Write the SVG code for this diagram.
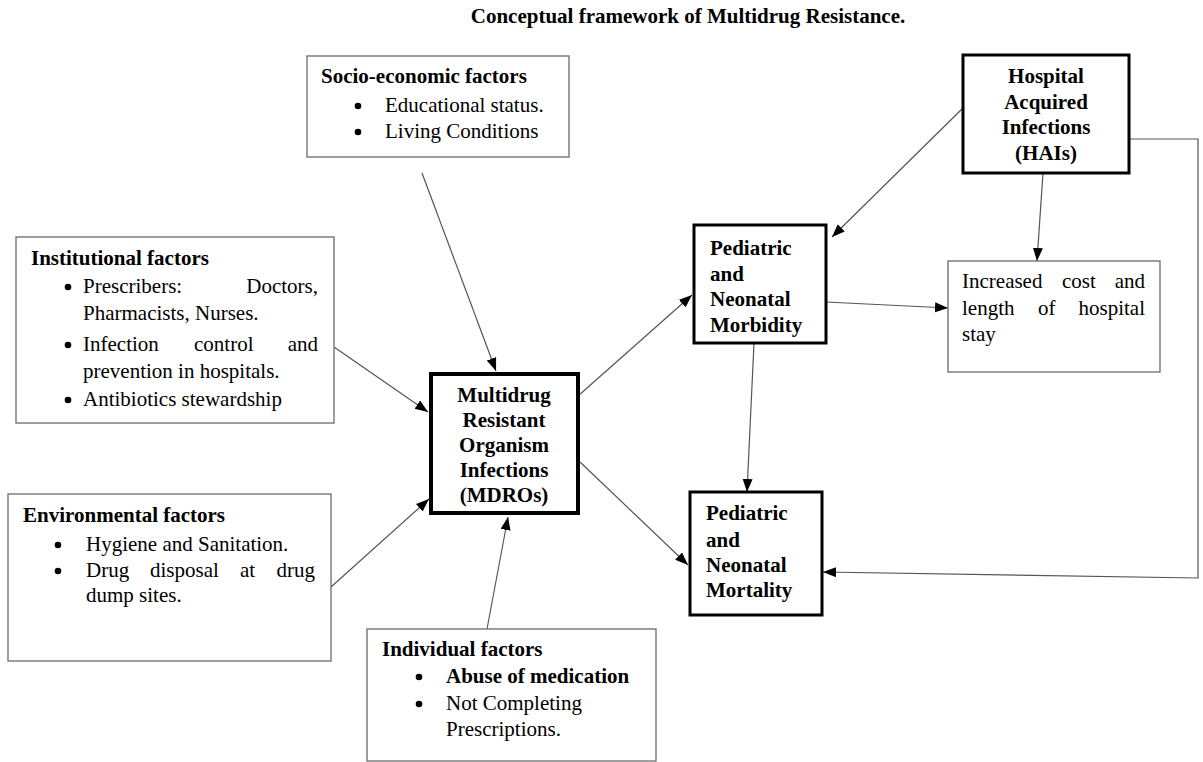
<svg xmlns="http://www.w3.org/2000/svg" width="1203" height="762" viewBox="0 0 1203 762">
<style>
text{font-family:"Liberation Serif","Times New Roman",serif;font-size:21px;fill:#000}
.b{font-weight:bold}
.thin{fill:#fff;stroke:#6a6a6a;stroke-width:1.3}
.thick{fill:#fff;stroke:#000;stroke-width:3}
.thick4{fill:#fff;stroke:#000;stroke-width:4}
.c{fill:none;stroke:#555;stroke-width:1.2}
.dot{fill:#000}
.m{text-anchor:middle}
.e{text-anchor:end}
</style>
<defs>
<marker id="ah" markerUnits="userSpaceOnUse" markerWidth="14" markerHeight="11" refX="13" refY="5" orient="auto">
<path d="M0,0 L13,5 L0,10 z" fill="#000"/>
</marker>
</defs>
<rect width="1203" height="762" fill="#fff"/>
<text class="b m" x="688" y="23">Conceptual framework of Multidrug Resistance.</text>

<g id="connectors">
<line class="c" x1="422" y1="173" x2="496" y2="371" marker-end="url(#ah)"/>
<line class="c" x1="334" y1="347" x2="428" y2="412" marker-end="url(#ah)"/>
<line class="c" x1="331" y1="587" x2="429" y2="499" marker-end="url(#ah)"/>
<line class="c" x1="487" y1="629" x2="508" y2="517" marker-end="url(#ah)"/>
<line class="c" x1="578" y1="396" x2="692" y2="295" marker-end="url(#ah)"/>
<line class="c" x1="580" y1="462" x2="688" y2="565" marker-end="url(#ah)"/>
<line class="c" x1="963" y1="108" x2="832" y2="237" marker-end="url(#ah)"/>
<line class="c" x1="1043" y1="173" x2="1037" y2="261" marker-end="url(#ah)"/>
<line class="c" x1="826" y1="302" x2="948" y2="308" marker-end="url(#ah)"/>
<line class="c" x1="754" y1="343" x2="747" y2="492" marker-end="url(#ah)"/>
<polyline class="c" points="1129,139 1198,139 1198,578 823,572" marker-end="url(#ah)"/>
</g>

<g id="socio">
<rect class="thin" x="307" y="56" width="262" height="101"/>
<text class="b" x="321" y="83">Socio-economic factors</text>
<circle class="dot" cx="358" cy="106" r="3.3"/>
<text x="385" y="112">Educational status.</text>
<circle class="dot" cx="358" cy="132" r="3.3"/>
<text x="385" y="138">Living Conditions</text>
</g>

<g id="institutional">
<rect class="thin" x="16" y="237" width="318" height="186"/>
<text class="b" x="31" y="265">Institutional factors</text>
<circle class="dot" cx="68" cy="287" r="3.3"/>
<text x="83" y="293">Prescribers:</text>
<text class="e" x="318" y="293">Doctors,</text>
<text x="83" y="320">Pharmacists, Nurses.</text>
<circle class="dot" cx="68" cy="345" r="3.3"/>
<text x="83" y="351">Infection</text>
<text x="194" y="351">control</text>
<text class="e" x="318" y="351">and</text>
<text x="83" y="378">prevention in hospitals.</text>
<circle class="dot" cx="68" cy="400" r="3.3"/>
<text x="83" y="406">Antibiotics stewardship</text>
</g>

<g id="environmental">
<rect class="thin" x="8" y="494" width="323" height="167"/>
<text class="b" x="23" y="522">Environmental factors</text>
<circle class="dot" cx="58" cy="545" r="3.3"/>
<text x="86" y="551">Hygiene and Sanitation.</text>
<circle class="dot" cx="58" cy="571" r="3.3"/>
<text x="86" y="577">Drug</text>
<text x="150" y="577">disposal</text>
<text x="240" y="577">at</text>
<text class="e" x="315" y="577">drug</text>
<text x="86" y="602">dump sites.</text>
</g>

<g id="individual">
<rect class="thin" x="367" y="629" width="289" height="132"/>
<text class="b" x="382" y="656">Individual factors</text>
<circle class="dot" cx="419" cy="677" r="3.3"/>
<text class="b" x="446" y="683">Abuse of medication</text>
<circle class="dot" cx="419" cy="704" r="3.3"/>
<text x="446" y="710">Not Completing</text>
<text x="446" y="736">Prescriptions.</text>
</g>

<g id="mdro">
<rect class="thick4" x="431" y="374" width="147" height="139"/>
<text class="b m" x="504" y="402">Multidrug</text>
<text class="b m" x="504" y="427">Resistant</text>
<text class="b m" x="504" y="452">Organism</text>
<text class="b m" x="504" y="477">Infections</text>
<text class="b m" x="504" y="502">(MDROs)</text>
</g>

<g id="hai">
<rect class="thick" x="963" y="55" width="166" height="118"/>
<text class="b m" x="1046" y="83">Hospital</text>
<text class="b m" x="1046" y="109">Acquired</text>
<text class="b m" x="1046" y="134">Infections</text>
<text class="b m" x="1046" y="160">(HAIs)</text>
</g>

<g id="morbidity">
<rect class="thick" x="694" y="225" width="132" height="118"/>
<text class="b" x="710" y="255">Pediatric</text>
<text class="b" x="710" y="281">and</text>
<text class="b" x="710" y="306">Neonatal</text>
<text class="b" x="710" y="332">Morbidity</text>
</g>

<g id="mortality">
<rect class="thick" x="690" y="492" width="132" height="123"/>
<text class="b" x="706" y="520">Pediatric</text>
<text class="b" x="706" y="547">and</text>
<text class="b" x="706" y="572">Neonatal</text>
<text class="b" x="706" y="597">Mortality</text>
</g>

<g id="cost">
<rect class="thin" x="948" y="261" width="212" height="111"/>
<text x="962" y="288">Increased</text>
<text x="1062" y="288">cost</text>
<text class="e" x="1145" y="288">and</text>
<text x="962" y="315">length</text>
<text x="1038" y="315">of</text>
<text class="e" x="1145" y="315">hospital</text>
<text x="962" y="341">stay</text>
</g>
</svg>
